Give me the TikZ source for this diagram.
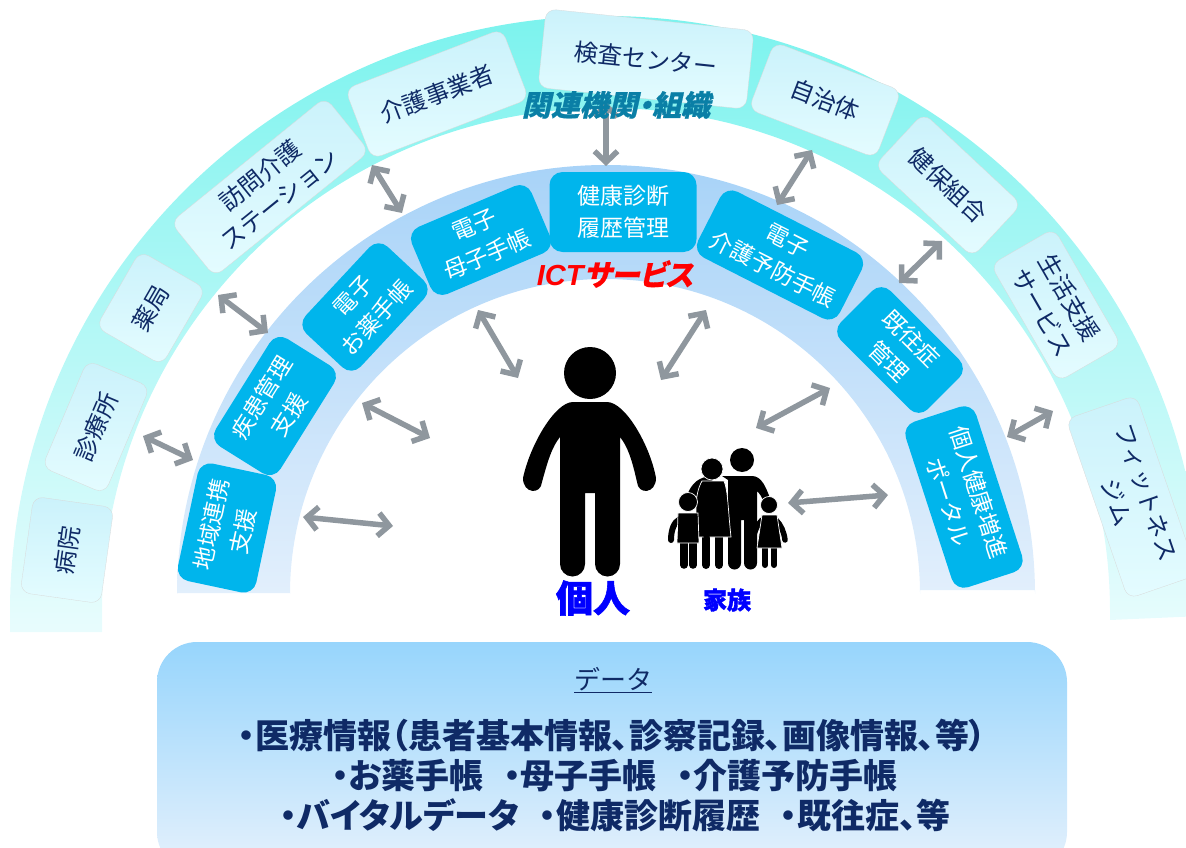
\documentclass[tikz,border=0pt]{standalone}
\usepackage{fontspec}
\setmainfont{Noto Sans CJK JP}
\newfontfamily\jpslant[FakeSlant=0.22,RawFeature=+palt,BoldFeatures={FakeBold=0.6}]{Noto Sans CJK JP}
\newfontfamily\jpdata[RawFeature=+palt]{Noto Sans CJK JP}
\newfontfamily\jpheavy[BoldFeatures={FakeBold=1.5}]{Noto Sans CJK JP}
\newfontfamily\latslant{Liberation Sans}
\usetikzlibrary{arrows.meta}
\definecolor{bandtop}{HTML}{7CF3EE}
\definecolor{bandmid}{HTML}{CFFAF9}
\definecolor{bandbot}{HTML}{E8FCFD}
\definecolor{ringtop}{HTML}{A8D3F8}
\definecolor{ringbot}{HTML}{E2EFFC}
\definecolor{orgtop}{HTML}{CBF2FB}
\definecolor{orgbot}{HTML}{E4FCFF}
\definecolor{svcblue}{HTML}{00B5EC}
\definecolor{navy}{HTML}{0F2A66}
\definecolor{linkgray}{HTML}{8F979E}
\definecolor{orgteal}{HTML}{0A7FA6}
\definecolor{datatop}{HTML}{97D5FC}
\definecolor{databot}{HTML}{E6F1FC}
\tikzset{
  orgbox/.style={rounded corners=10pt,top color=orgtop,bottom color=orgbot,draw=gray!30,line width=.3pt,
    text=navy,align=center,inner sep=0pt,font=\fontsize{24}{31}\selectfont},
  svcbox/.style={rounded corners=13pt,fill=svcblue,text=white,align=center,inner sep=0pt,
    font=\fontsize{23}{32}\selectfont},
  linkarrow/.style={{Straight Barb[length=11pt,width=23pt]}-{Straight Barb[length=11pt,width=23pt]},draw=linkgray,line width=5.5pt},
  datatext/.style={text=navy,font=\jpdata\bfseries\fontsize{34}{36}\selectfont,inner sep=0pt},
  famshape/.style={fill=black,draw=white,line width=.7pt},
  famlimb/.style={draw=black,line cap=round}
}
\begin{document}
\begin{tikzpicture}[x=1pt,y=1pt]
\path[use as bounding box,clip] (0,0) rectangle (1186,-848);
% outer band
\shade[top color=bandtop,middle color=bandmid,bottom color=bandbot]
  (10,-632) -- (10,-612) arc[start angle=180,end angle=0,radius=596] -- (1202,-616) -- (1110,-620) -- (1110,-612)
  arc[start angle=0,end angle=180,radius=504] -- (102,-632) -- cycle;
% inner band
\shade[top color=ringtop,bottom color=ringbot]
  (177,-593) -- (177,-594) arc[start angle=180,end angle=0,radius=429] -- (1035,-590) -- (920,-590) -- (920,-594)
  arc[start angle=0,end angle=180,radius=315] -- (290,-593) -- cycle;
% related organisations
\node[orgbox,minimum width=97,minimum height=81,rotate=82] (hospital) at (67,-550) {病院};
\node[orgbox,minimum width=116,minimum height=68,rotate=67] (clinic) at (96,-427) {診療所};
\node[orgbox,minimum width=88,minimum height=76,rotate=60] (pharmacy) at (151,-308) {薬局};
\node[orgbox,minimum width=199,minimum height=70,rotate=39] (homecare) at (270,-187) {訪問介護\\ステーション};
\node[orgbox,minimum width=168,minimum height=75,rotate=21] (careco) at (437,-94) {介護事業者};
\node[orgbox,minimum width=209,minimum height=79,rotate=-6] (labcenter) at (646,-59) {検査センター};
\node[orgbox,minimum width=136,minimum height=72,rotate=-21] (cityhall) at (825,-100) {自治体};
\node[orgbox,minimum width=134,minimum height=72,rotate=-43] (insurer) at (948,-185) {健保組合};
\node[orgbox,minimum width=135,minimum height=73,rotate=-60] (lifesup) at (1056,-305) {生活支援\\サービス};
\node[orgbox,minimum width=190,minimum height=74,rotate=-71] (fitness) at (1132,-497) {フィットネス\\ジム};
% ICT services
\node[svcbox,minimum width=120,minimum height=80,rotate=78] (regional) at (227,-528) {地域連携\\支援};
\node[svcbox,minimum width=127,minimum height=76,rotate=58] (disease) at (275,-406) {疾患管理\\支援};
\node[svcbox,minimum width=119,minimum height=75,rotate=47] (ebook) at (365,-307) {電子\\お薬手帳};
\node[svcbox,minimum width=130,minimum height=73,rotate=23] (ematern) at (481,-240) {電子\\母子手帳};
\node[svcbox,minimum width=147,minimum height=80] (checkup) at (623,-212) {健康診断\\履歴管理};
\node[svcbox,minimum width=159,minimum height=74,rotate=-27] (ecare) at (780,-255) {電子\\介護予防手帳};
\node[svcbox,minimum width=123,minimum height=70,rotate=-45] (history) at (900,-350) {既往症\\管理};
\node[svcbox,minimum width=174,minimum height=74,rotate=-72] (portal) at (964,-497) {個人健康増進\\ポータル};
% link ends
\coordinate (o1) at (143,-436); \coordinate (s1) at (193,-460);
\coordinate (o2) at (218,-295); \coordinate (s2) at (268,-333);
\coordinate (o3) at (372,-165); \coordinate (s3) at (402,-213);
\coordinate (o4) at (606,-102); \coordinate (s4) at (606,-166);
\coordinate (o5) at (812,-150); \coordinate (s5) at (777,-205);
\coordinate (o6) at (942,-241); \coordinate (s6) at (899,-283);
\coordinate (o7) at (1053,-411); \coordinate (s7) at (1007,-437);
\coordinate (u1) at (393,-526); \coordinate (i1) at (303,-517);
\coordinate (u2) at (430,-438); \coordinate (i2) at (362,-403);
\coordinate (u3) at (518,-378); \coordinate (i3) at (478,-310);
\coordinate (u4) at (661,-380); \coordinate (i4) at (706,-310);
\coordinate (u5) at (756,-428); \coordinate (i5) at (830,-388);
\coordinate (u6) at (788,-503); \coordinate (i6) at (888,-495);
\foreach \a/\b in {o1/s1,o2/s2,o3/s3,o4/s4,o5/s5,o6/s6,o7/s7,u1/i1,u2/i2,u3/i3,u4/i4,u5/i5,u6/i6}
  \draw[linkarrow] (\a) -- (\b);
% titles
\node[text=orgteal,font=\jpslant\bfseries\fontsize{29}{29}\selectfont,inner sep=0pt] (orgtitle) at (616,-105) {関連機関・組織};
\node[text=red,font=\bfseries\fontsize{29}{29}\selectfont,inner sep=0pt] (icttitle) at (615,-274) {{\latslant\itshape ICT}{\jpslant サービス}};
% person
\fill (590,-373) circle[radius=26];
\fill (573,-402) -- (607,-402) .. controls (625,-402) and (650,-445) .. (656,-478)
  .. controls (656,-494) and (638,-495) .. (637,-482) .. controls (632,-460) and (628,-447) .. (620,-437)
  -- (620,-564) arc[start angle=0,end angle=-180,radius=12.5] -- (595,-493) -- (585,-493) -- (585,-564)
  arc[start angle=0,end angle=-180,radius=12.5] -- (560,-437) .. controls (552,-447) and (548,-460) .. (542,-482)
  .. controls (541,-495) and (523,-494) .. (523,-478) .. controls (530,-445) and (555,-402) .. (573,-402) -- cycle;
% family
\fill (742,-460) circle[radius=12];
\fill (722,-476) -- (752,-476) .. controls (762,-476) and (766,-488) .. (770,-498) -- (764,-503)
  .. controls (762,-497) and (760,-494) .. (757,-491) -- (757,-563) arc[start angle=0,end angle=-180,radius=6.5]
  -- (744,-520) -- (741,-520) -- (741,-563) arc[start angle=0,end angle=-180,radius=6.5] -- (728,-480) -- cycle;
\draw[famlimb,line width=8pt] (706,-535) -- (706,-565);
\draw[famlimb,line width=8pt] (719,-535) -- (719,-565);
\draw[famlimb,line width=9pt] (708,-481) .. controls (698,-483) and (694,-489) .. (690,-500);
\path[famshape] (702,-481) -- (724,-481) .. controls (728,-490) and (728,-510) .. (731,-537) -- (696,-537) -- (696,-510)
  .. controls (696,-497) and (698,-488) .. (702,-481) -- cycle;
\path[famshape] (712,-469) circle[radius=11];
\draw[famlimb,line width=7.5pt] (684,-535) -- (684,-565);
\draw[famlimb,line width=7.5pt] (693,-535) -- (693,-565);
\draw[famlimb,line width=6pt] (680,-519) .. controls (674,-522) and (671,-530) .. (671,-540);
\draw[famlimb,line width=6pt] (697,-519) .. controls (703,-522) and (706,-530) .. (707,-540);
\path[famshape] (678,-513) -- (698,-513) -- (699,-543) -- (677,-543) -- cycle;
\path[famshape] (688,-502) circle[radius=9.5];
\draw[famlimb,line width=6pt] (765,-545) -- (765,-565);
\draw[famlimb,line width=6pt] (774,-545) -- (774,-565);
\draw[famlimb,line width=5.5pt] (762,-520) .. controls (757,-525) and (754,-532) .. (753,-540);
\draw[famlimb,line width=5.5pt] (776,-520) .. controls (781,-525) and (784,-532) .. (785,-540);
\path[famshape] (762,-515) -- (777,-515) -- (782,-548) -- (757,-548) -- cycle;
\path[famshape] (769,-505) circle[radius=8.5];
\node[text=blue,font=\jpheavy\bfseries\fontsize{37}{37}\selectfont,inner sep=0pt] (person) at (593,-598) {個人};
\node[text=blue,font=\jpheavy\bfseries\fontsize{24}{24}\selectfont,inner sep=0pt] (family) at (727,-600) {家族};
% data
\node[rounded corners=40pt,top color=datatop,bottom color=databot,minimum width=910,minimum height=230,inner sep=0pt] (datapanel) at (612,-757) {};
\node[text=navy,font=\fontsize{26}{26}\selectfont,inner sep=0pt] (datahead) at (613,-680) {\underline{データ}};
\node[datatext] (dataone) at (612,-736) {・医療情報（患者基本情報、診察記録、画像情報、等）};
\node[datatext] (datatwo) at (615,-776) {・お薬手帳\hspace{20pt}・母子手帳\hspace{20pt}・介護予防手帳};
\node[datatext] (datathree) at (615,-815) {・バイタルデータ\hspace{20pt}・健康診断履歴\hspace{20pt}・既往症、等};
\end{tikzpicture}
\end{document}
